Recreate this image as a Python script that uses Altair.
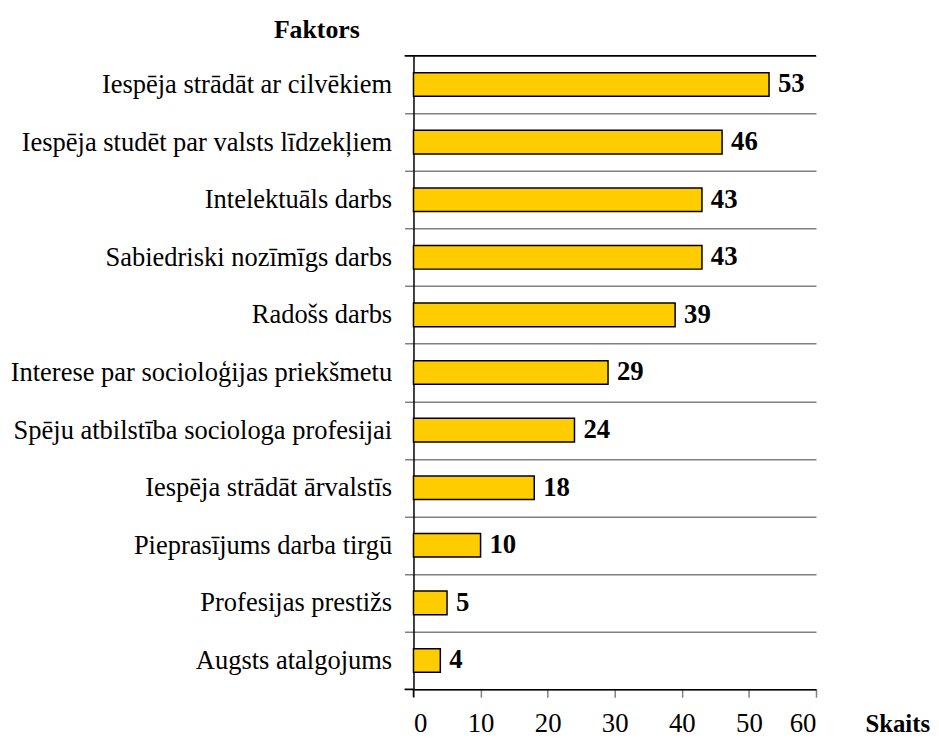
import altair as alt
import pandas as pd

categories = [
    "Iespēja strādāt ar cilvēkiem",
    "Iespēja studēt par valsts līdzekļiem",
    "Intelektuāls darbs",
    "Sabiedriski nozīmīgs darbs",
    "Radošs darbs",
    "Interese par socioloģijas priekšmetu",
    "Spēju atbilstība sociologa profesijai",
    "Iespēja strādāt ārvalstīs",
    "Pieprasījums darba tirgū",
    "Profesijas prestižs",
    "Augsts atalgojums",
]
values = [53, 46, 43, 43, 39, 29, 24, 18, 10, 5, 4]
x_ticks = [0, 10, 20, 30, 40, 50, 60]

df = pd.DataFrame({"Faktors": categories, "Skaits": values})

FONT = "Liberation Serif, Times New Roman, Times, serif"
GRAY = "#808080"

y_enc = alt.Y(
    "Faktors:N",
    sort=categories,
    scale=alt.Scale(paddingInner=0, paddingOuter=0),
    axis=alt.Axis(
        title="Faktors",
        titleAngle=0,
        titleX=-98,
        titleY=-18,
        titleAlign="center",
        titleBaseline="alphabetic",
        titleFontSize=26,
        titleFontWeight="bold",
        titleColor="black",
        labelFontSize=26.7,
        labelColor="black",
        labelPadding=13,
        labelLimit=600,
        tickBand="extent",
        tickSize=9,
        tickColor=GRAY,
        tickWidth=1.5,
        grid=True,
        gridColor=GRAY,
        gridWidth=1.5,
        domainColor="black",
        domainWidth=1.5,
    ),
)

x_enc = alt.X(
    "Skaits:Q",
    scale=alt.Scale(domain=[0, 60]),
    axis=alt.Axis(
        values=x_ticks,
        title="Skaits",
        titleX=488,
        titleY=43,
        titleAlign="center",
        titleBaseline="alphabetic",
        titleFontSize=25,
        titleFontWeight="bold",
        titleColor="black",
        labelFontSize=27,
        labelColor="black",
        labelBaseline="alphabetic",
        labelPadding=35,
        tickSize=8,
        tickColor=GRAY,
        tickWidth=1.5,
        grid=False,
        domainColor="black",
        domainWidth=1.5,
    ),
)

bars = alt.Chart(df).mark_bar(
    color="#FFCC00", stroke="black", strokeWidth=1.5, height={"band": 0.41}
).encode(x=x_enc, y=y_enc)

labels = alt.Chart(df).mark_text(
    align="left", baseline="middle", dx=9, font=FONT, fontSize=27,
    fontWeight="bold", color="black"
).encode(
    x=alt.X("Skaits:Q"),
    y=alt.Y("Faktors:N", sort=categories),
    text="Skaits:Q",
)

frame = pd.DataFrame({"a": [0]})
top_line = alt.Chart(frame).mark_rule(color="black", strokeWidth=1.5).encode(
    x=alt.value(-9), x2=alt.value(406), y=alt.value(0)
)
bottom_ext = alt.Chart(frame).mark_rule(color="black", strokeWidth=1.5).encode(
    x=alt.value(-9), x2=alt.value(0), y=alt.value(639)
)
zero_tick = alt.Chart(frame).mark_rule(color="black", strokeWidth=1.5).encode(
    x=alt.value(0), y=alt.value(639), y2=alt.value(647)
)

chart = (
    alt.layer(bars, labels, top_line, bottom_ext, zero_tick)
    .properties(
        width=406,
        height=639,
        autosize=alt.AutoSizeParams(type="none"),
        padding={"left": 409, "top": 45, "right": 116, "bottom": 47},
        background="white",
    )
    .configure_view(stroke=None)
    .configure_axis(labelFont=FONT, titleFont=FONT)
    .configure_text(font=FONT)
)

chart.save("out.html", embed_options={"renderer": "svg", "actions": False})
